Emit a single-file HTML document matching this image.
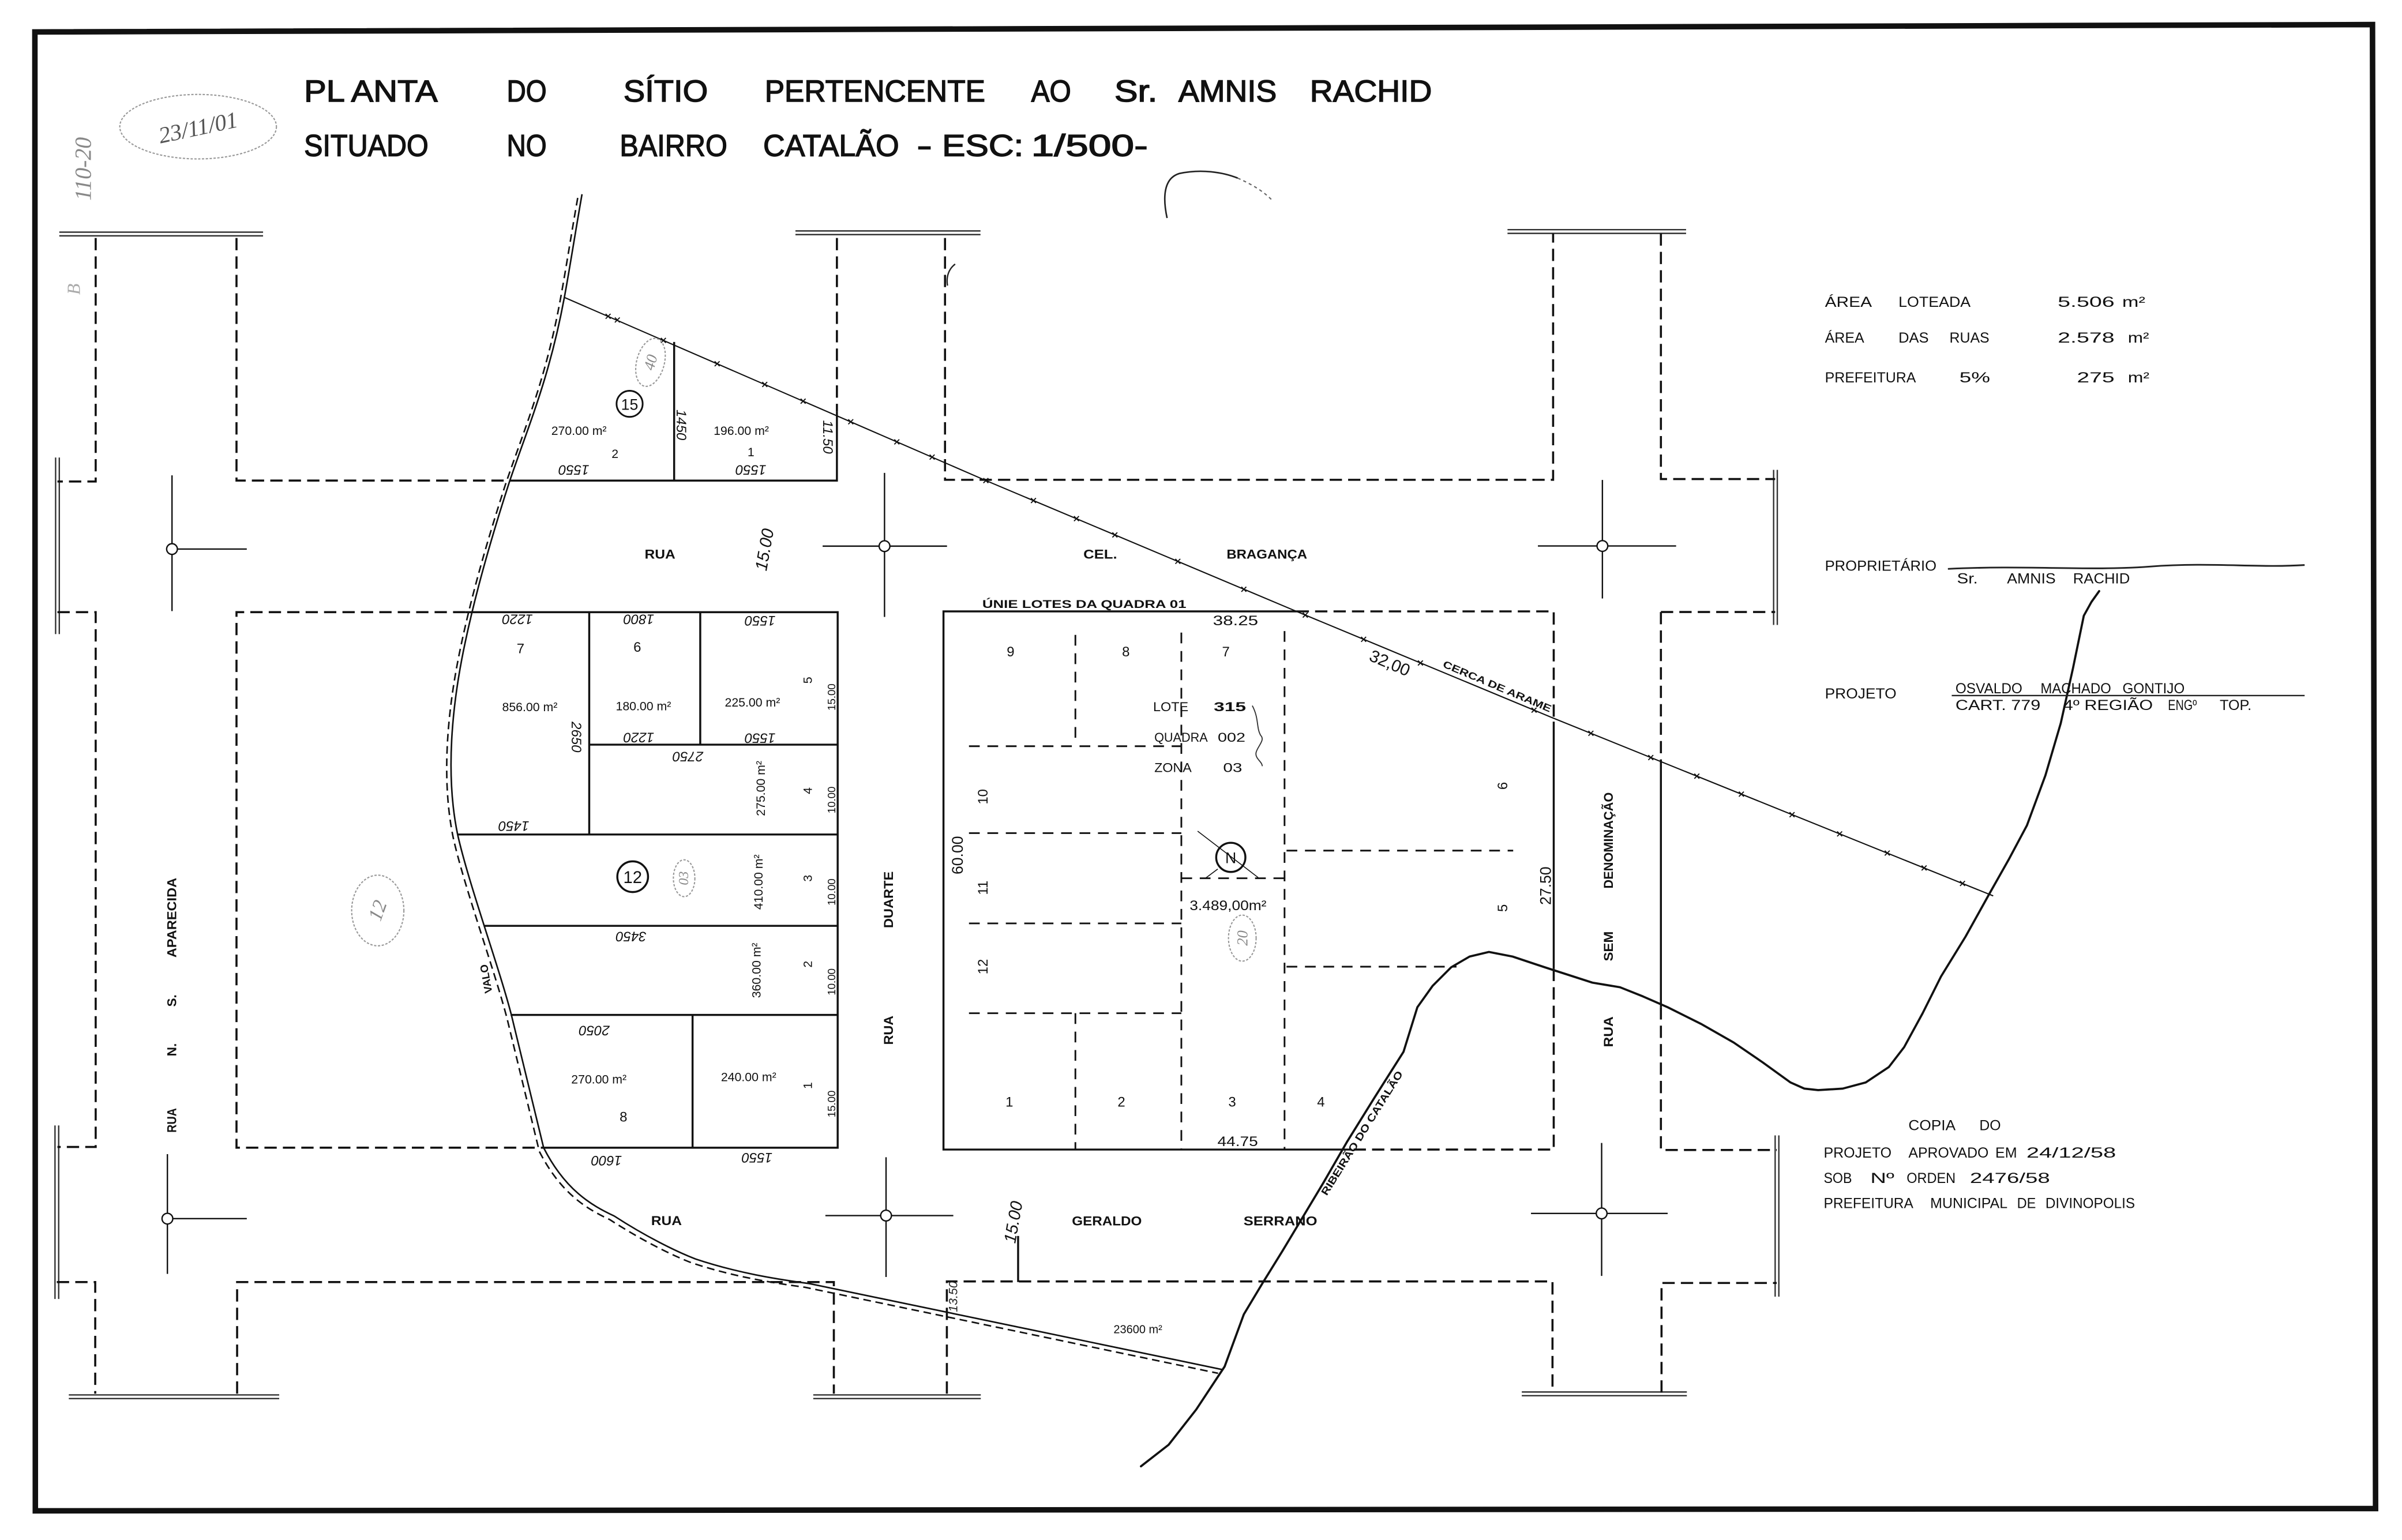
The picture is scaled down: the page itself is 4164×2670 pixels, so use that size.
<!DOCTYPE html>
<html><head><meta charset="utf-8"><style>
html,body{margin:0;padding:0;background:#fff;}
svg{display:block;}
text{font-family:"Liberation Sans",sans-serif;fill:#111;}
.ttl text{stroke:#111;stroke-width:0.55;}
.h{font-family:"Liberation Serif",serif;font-style:italic;fill:#555;}
.s{fill:none;stroke:#111;stroke-width:1.3;}
.d{fill:none;stroke:#111;stroke-width:1.35;stroke-dasharray:8 4;}
.d2{fill:none;stroke:#111;stroke-width:1.1;stroke-dasharray:7 5;}
.br{fill:none;stroke:#333;stroke-width:0.9;}
.pc{fill:none;stroke:#999;stroke-width:0.8;stroke-dasharray:1.5 1;}
</style></head><body>
<svg width="4164" height="2670" viewBox="0 0 1564.2 1003" xmlns="http://www.w3.org/2000/svg">
<rect x="0" y="0" width="1564.2" height="1003" fill="#fff"/>
<path d="M22.7,20.8 L1545,16 L1547,982.5 L23,984 Z" fill="none" stroke="#111" stroke-width="3.6"/>
<g class="ttl">
<text x="198" y="59.5" font-size="20" dominant-baseline="central" textLength="87" lengthAdjust="spacingAndGlyphs">PL ANTA</text>
<text x="330" y="59.5" font-size="20" dominant-baseline="central" textLength="26" lengthAdjust="spacingAndGlyphs">DO</text>
<text x="406" y="59.5" font-size="20" dominant-baseline="central" textLength="55" lengthAdjust="spacingAndGlyphs">SÍTIO</text>
<text x="498" y="59.5" font-size="20" dominant-baseline="central" textLength="143.6" lengthAdjust="spacingAndGlyphs">PERTENCENTE</text>
<text x="671.5" y="59.5" font-size="20" dominant-baseline="central" textLength="26" lengthAdjust="spacingAndGlyphs">AO</text>
<text x="725.7" y="59.5" font-size="20" dominant-baseline="central" textLength="28" lengthAdjust="spacingAndGlyphs">Sr.</text>
<text x="767.4" y="59.5" font-size="20" dominant-baseline="central" textLength="64" lengthAdjust="spacingAndGlyphs">AMNIS</text>
<text x="853" y="59.5" font-size="20" dominant-baseline="central" textLength="79.5" lengthAdjust="spacingAndGlyphs">RACHID</text>
<text x="198" y="95" font-size="20" dominant-baseline="central" textLength="81" lengthAdjust="spacingAndGlyphs">SITUADO</text>
<text x="330" y="95" font-size="20" dominant-baseline="central" textLength="26" lengthAdjust="spacingAndGlyphs">NO</text>
<text x="403.6" y="95" font-size="20" dominant-baseline="central" textLength="70" lengthAdjust="spacingAndGlyphs">BAIRRO</text>
<text x="497" y="95" font-size="20" dominant-baseline="central" textLength="88.5" lengthAdjust="spacingAndGlyphs">CATALÃO</text>
<text x="597" y="95" font-size="20" dominant-baseline="central" textLength="10" lengthAdjust="spacingAndGlyphs">-</text>
<text x="613.5" y="95" font-size="20" dominant-baseline="central" textLength="53" lengthAdjust="spacingAndGlyphs">ESC:</text>
<text x="671.5" y="95" font-size="20" dominant-baseline="central" textLength="76" lengthAdjust="spacingAndGlyphs">1/500-</text>
</g>
<ellipse cx="129" cy="82.5" rx="51" ry="21" class="pc"/>
<text class="h" x="129" y="83" font-size="15" text-anchor="middle" dominant-baseline="central" transform="rotate(-12 129 83)">23/11/01</text>
<text class="h" x="0" y="0" font-size="15" text-anchor="middle" dominant-baseline="central" transform="translate(54,110) rotate(-90)" style="fill:#888">110-20</text>
<text class="h" x="52" y="192" font-size="12" style="fill:#aaa" transform="rotate(-90 52 192)">B</text>
<path d="M760,142 C757,128 758,116 768,113 C782,110 796,112 806,116" fill="none" stroke="#222" stroke-width="1"/>
<path d="M806,116 C815,120 822,124 828,130" fill="none" stroke="#666" stroke-width="0.8" stroke-dasharray="2 2"/>
<path d="M617,186 C616,180 618,175 622,172" fill="none" stroke="#222" stroke-width="0.9"/>
<path class="br" d="M38.6,151.2 H171.3 M38.6,153.6 H171.3 M518,150.4 H638.5 M518,152.8 H638.5 M981.7,149.6 H1098 M981.7,152 H1098 M44.8,908.5 H181.8 M44.8,910.9 H181.8 M529.6,908.5 H638.7 M529.6,910.9 H638.7 M991,906.6 H1098.5 M991,909 H1098.5 M36.2,298 V413 M38.6,298 V413 M35.8,733 V846 M38.2,733 V846 M1155,306 V407 M1157.4,306 V407 M1156,739.5 V844.5 M1158.4,739.5 V844.5"/>
<path class="d" d="M62.3,155 V313.6 H37.4 M154,155 V313 H332 M545,155 V268 M615.4,155 V312.5 H1011.4 V152 M1081.6,152 V312 H1156 M37.4,398.7 H62.3 V747 H37.4 M303,398.7 H154 V747.5 H354 M844.4,398.2 H1011.8 V470 M1011.8,631 V748.7 H880 M1081.6,398.6 H1156 M1081.6,398.6 V497 M1081.6,656 V749 H1157 M37,835 H62 V907.7 M154.4,907.7 V835 H543 V907.7 M616.6,907.7 V834.6 H1011 V907 M1082,907 V835.6 H1157"/>
<path class="s" d="M332,313 H545 V268 M439,222.7 V313 M303,398.7 H545.5 V747.5 H354 M383.7,398.7 V543.5 M456,398.7 V485 M383.7,485 H545.5 M298,543.5 H545.5 M315,603 H545.5 M332.5,661 H545.5 M451,661 V747.5 M844.4,398.2 H614.4 V748.7 H880 M1011.8,470 V631 M1081.6,497 V656 M663,805 V835"/>
<path class="d2" d="M700.3,413.5 V484.6 M769.3,412 V748.7 M836.5,411 V748.7 M631,486 H769.3 M631,542.6 H769.3 M631,601.4 H769.3 M631,659.9 H769.3 M700.3,659.9 V748.7 M769.3,572 H836.5 M837.8,554 H985.4 M837.8,629.6 H948.5"/>
<g fill="none" stroke="#111" stroke-width="0.9">
<path d="M112,309.6 V398 M112,357.6 H160.7"/><circle cx="112" cy="357.6" r="3.5" fill="#fff"/>
<path d="M576,308 V401.8 M535.7,355.7 H616.7"/><circle cx="576" cy="355.7" r="3.5" fill="#fff"/>
<path d="M1043.5,312.6 V389.8 M1001.5,355.6 H1091.5"/><circle cx="1043.5" cy="355.6" r="3.5" fill="#fff"/>
<path d="M109,751.7 V829.7 M109,793.7 H160.7"/><circle cx="109" cy="793.7" r="3.5" fill="#fff"/>
<path d="M577,753.7 V831.7 M537.5,791.7 H620.8"/><circle cx="577" cy="791.7" r="3.5" fill="#fff"/>
<path d="M1043,744.4 V831 M997,790.3 H1086"/><circle cx="1043" cy="790.3" r="3.5" fill="#fff"/>
</g>
<path d="M379,126.5 C374,155 371,175 367.5,193.7 C358,245 345,275 332,313 C320,350 310,385 303,418 C294,460 290,505 298,543.5 C305,575 325,630 333,661 L354,747.5 C368,775 385,785 400,792 C420,805 440,815 453,820 C480,829 505,833 527,836 L796,892" fill="none" stroke="#111" stroke-width="1"/>
<path d="M379,126.5 C374,155 371,175 367.5,193.7 C358,245 345,275 332,313 C320,350 310,385 303,418 C294,460 290,505 298,543.5 C305,575 325,630 333,661 L354,747.5 C368,775 385,785 400,792 C420,805 440,815 453,820 C480,829 505,833 527,836 L796,892" fill="none" stroke="#111" stroke-width="1" stroke-dasharray="5 3" transform="translate(-2.8,2.4)"/>
<polyline points="367.5,193.7 641.6,312.8 845,398.5 1011,467.5 1298,583.5" fill="none" stroke="#111" stroke-width="0.8"/>
<path d="M394.4,204.4 l3.2,3.2 m0,-3.2 l-3.2,3.2 M400.4,206.8 l3.2,3.2 m0,-3.2 l-3.2,3.2 M430.4,220.1 l3.2,3.2 m0,-3.2 l-3.2,3.2 M465.4,235.3 l3.2,3.2 m0,-3.2 l-3.2,3.2 M496.4,248.8 l3.2,3.2 m0,-3.2 l-3.2,3.2 M521.4,259.7 l3.2,3.2 m0,-3.2 l-3.2,3.2 M552.4,273.1 l3.2,3.2 m0,-3.2 l-3.2,3.2 M582.4,286.2 l3.2,3.2 m0,-3.2 l-3.2,3.2 M605.4,296.1 l3.2,3.2 m0,-3.2 l-3.2,3.2 M640.4,311.4 l3.2,3.2 m0,-3.2 l-3.2,3.2 M671.4,324.4 l3.2,3.2 m0,-3.2 l-3.2,3.2 M699.4,336.2 l3.2,3.2 m0,-3.2 l-3.2,3.2 M724.4,346.8 l3.2,3.2 m0,-3.2 l-3.2,3.2 M765.4,364 l3.2,3.2 m0,-3.2 l-3.2,3.2 M808.4,382.2 l3.2,3.2 m0,-3.2 l-3.2,3.2 M848.4,399 l3.2,3.2 m0,-3.2 l-3.2,3.2 M886.4,414.8 l3.2,3.2 m0,-3.2 l-3.2,3.2 M923.4,430.2 l3.2,3.2 m0,-3.2 l-3.2,3.2 M997.4,460.9 l3.2,3.2 m0,-3.2 l-3.2,3.2 M1034.4,476 l3.2,3.2 m0,-3.2 l-3.2,3.2 M1073.4,491.8 l3.2,3.2 m0,-3.2 l-3.2,3.2 M1103.4,503.9 l3.2,3.2 m0,-3.2 l-3.2,3.2 M1132.4,515.6 l3.2,3.2 m0,-3.2 l-3.2,3.2 M1165.4,529 l3.2,3.2 m0,-3.2 l-3.2,3.2 M1196.4,541.5 l3.2,3.2 m0,-3.2 l-3.2,3.2 M1227.4,554 l3.2,3.2 m0,-3.2 l-3.2,3.2 M1251.4,563.7 l3.2,3.2 m0,-3.2 l-3.2,3.2 M1276.4,573.8 l3.2,3.2 m0,-3.2 l-3.2,3.2" fill="none" stroke="#111" stroke-width="0.7"/>
<polyline points="743,955 761,941 779,918 797.5,890 810,856 822,836 835,815 847,795 862,770 877,744 895,715 914,685 923,656 933,642 945,630 957,623 969.6,620 985,623 1006,630 1037,640 1055,643 1070,649 1086,656 1108,667 1129,679 1148,692 1166,705 1175,709 1184,710 1200,709 1215,705 1230,695 1240,682 1252,660 1264,636 1280,610 1295,583 1308,560 1320,537.5 1332,505 1342,471 1350,435 1357,401 1362,392 1367,385" fill="none" stroke="#111" stroke-width="1.4" stroke-linejoin="round" stroke-linecap="round"/>
<g font-weight="bold" font-size="8.5" text-anchor="middle" dominant-baseline="central">
<text x="429.8" y="361" textLength="20" lengthAdjust="spacingAndGlyphs">RUA</text>
<text x="716.5" y="361" textLength="22" lengthAdjust="spacingAndGlyphs">CEL.</text>
<text x="825" y="361" textLength="52.5" lengthAdjust="spacingAndGlyphs">BRAGANÇA</text>
<text x="434" y="795" textLength="20" lengthAdjust="spacingAndGlyphs">RUA</text>
<text x="720.8" y="795.3" textLength="45.5" lengthAdjust="spacingAndGlyphs">GERALDO</text>
<text x="833.8" y="795.3" textLength="48" lengthAdjust="spacingAndGlyphs">SERRANO</text>
<text transform="translate(112,729.7) rotate(-90)" textLength="16" lengthAdjust="spacingAndGlyphs">RUA</text>
<text transform="translate(112,683.7) rotate(-90)">N.</text>
<text transform="translate(112,651.7) rotate(-90)">S.</text>
<text transform="translate(112,597.7) rotate(-90)" textLength="52" lengthAdjust="spacingAndGlyphs">APARECIDA</text>
<text transform="translate(578.6,586) rotate(-90)" textLength="37" lengthAdjust="spacingAndGlyphs">DUARTE</text>
<text transform="translate(578.6,671) rotate(-90)" textLength="19" lengthAdjust="spacingAndGlyphs">RUA</text>
<text transform="translate(1047.5,672) rotate(-90)" textLength="20" lengthAdjust="spacingAndGlyphs">RUA</text>
<text transform="translate(1047.5,616.3) rotate(-90)" textLength="19.5" lengthAdjust="spacingAndGlyphs">SEM</text>
<text transform="translate(1047.5,547.4) rotate(-90)" textLength="62.7" lengthAdjust="spacingAndGlyphs">DENOMINAÇÃO</text>
</g>
<g font-size="8" text-anchor="middle" dominant-baseline="central">
<text x="377" y="280.6">270.00 m²</text>
<text x="400.5" y="295.6">2</text>
<text x="482.7" y="280.6">196.00 m²</text>
<text x="489" y="294.6">1</text>
<text x="339" y="422.6" font-size="9">7</text>
<text x="415" y="421.6" font-size="9">6</text>
<text x="345" y="460.5">856.00 m²</text>
<text x="419" y="460">180.00 m²</text>
<text x="490" y="457.5">225.00 m²</text>
<text x="390" y="703">270.00 m²</text>
<text x="406" y="727.7" font-size="9">8</text>
<text x="487.5" y="701.6">240.00 m²</text>
<text transform="translate(526,443) rotate(-90)">5</text>
<text transform="translate(541.5,454) rotate(-90)" font-size="7">15.00</text>
<text transform="translate(495.5,513.5) rotate(-90)">275.00 m²</text>
<text transform="translate(526,515) rotate(-90)">4</text>
<text transform="translate(541.5,521) rotate(-90)" font-size="7">10.00</text>
<text transform="translate(494,574.5) rotate(-90)">410.00 m²</text>
<text transform="translate(526,572) rotate(-90)">3</text>
<text transform="translate(541.5,581) rotate(-90)" font-size="7">10.00</text>
<text transform="translate(492.7,632) rotate(-90)">360.00 m²</text>
<text transform="translate(526,628) rotate(-90)">2</text>
<text transform="translate(541.5,639.5) rotate(-90)" font-size="7">10.00</text>
<text transform="translate(526,707) rotate(-90)">1</text>
<text transform="translate(541.5,719) rotate(-90)" font-size="7">15.00</text>
<text transform="translate(316.5,637.5) rotate(-100)" font-size="7" font-weight="bold">VALO</text>
<text x="741" y="866" font-size="7.5">23600 m²</text>
</g>
<circle cx="410" cy="263" r="8.5" fill="none" stroke="#111" stroke-width="1.1"/>
<text x="410" y="263.5" font-size="10" text-anchor="middle" dominant-baseline="central">15</text>
<circle cx="412" cy="571" r="10" fill="none" stroke="#111" stroke-width="1.3"/>
<text x="412" y="571.5" font-size="11" text-anchor="middle" dominant-baseline="central">12</text>
<g class="h" font-size="9" text-anchor="middle" dominant-baseline="central">
<text transform="translate(373.7,305.7) rotate(180)">1550</text>
<text transform="translate(489,305.7) rotate(180)">1550</text>
<text transform="translate(443.5,276.7) rotate(90)">1450</text>
<text transform="translate(538.8,284.6) rotate(90)">11.50</text>
<text transform="translate(337,403) rotate(180)">1220</text>
<text transform="translate(416,403) rotate(180)">1800</text>
<text transform="translate(495,404) rotate(180)">1550</text>
<text transform="translate(416,480) rotate(180)">1220</text>
<text transform="translate(495,480.5) rotate(180)">1550</text>
<text transform="translate(448,492.5) rotate(180)">2750</text>
<text transform="translate(334.6,537.7) rotate(180)">1450</text>
<text transform="translate(375,480) rotate(90)">2650</text>
<text transform="translate(411,609.7) rotate(180)">3450</text>
<text transform="translate(387,671) rotate(180)">2050</text>
<text transform="translate(395,755.7) rotate(180)">1600</text>
<text transform="translate(493,753.7) rotate(180)">1550</text>
<text transform="translate(498,358) rotate(-80)" font-size="11">15.00</text>
<text transform="translate(660,796) rotate(-80)" font-size="11">15.00</text>
<text transform="translate(620.7,844.5) rotate(-90)" font-size="8" style="fill:#222">13.50</text>
</g>
<ellipse cx="423.6" cy="236" rx="9" ry="16" class="pc" transform="rotate(15 423.6 236)"/>
<text class="h" transform="translate(423.6,236) rotate(-75)" font-size="10" text-anchor="middle" dominant-baseline="central" style="fill:#888">40</text>
<ellipse cx="445.5" cy="572" rx="7" ry="12" class="pc"/>
<text class="h" transform="translate(445.5,572) rotate(-90)" font-size="9" text-anchor="middle" dominant-baseline="central" style="fill:#888">03</text>
<ellipse cx="809" cy="611" rx="9" ry="15" class="pc"/>
<text class="h" transform="translate(809,611) rotate(-90)" font-size="10" text-anchor="middle" dominant-baseline="central" style="fill:#888">20</text>
<ellipse cx="246" cy="593" rx="17" ry="23" class="pc"/>
<text class="h" transform="translate(246,593) rotate(-70)" font-size="13" text-anchor="middle" dominant-baseline="central" style="fill:#888">12</text>
<text x="639.7" y="393.7" font-size="7.3" font-weight="bold" dominant-baseline="central" textLength="132.8" lengthAdjust="spacingAndGlyphs">ÚNIE  LOTES  DA  QUADRA  01</text>
<g font-size="9" text-anchor="middle" dominant-baseline="central">
<text x="804.6" y="404.3" textLength="29.5" lengthAdjust="spacingAndGlyphs">38.25</text>
<text x="658.1" y="424.6">9</text>
<text x="733.2" y="424.6">8</text>
<text x="798.3" y="424.6">7</text>
<text x="806" y="743.7" textLength="26.4" lengthAdjust="spacingAndGlyphs">44.75</text>
<text x="657.3" y="717.8">1</text>
<text x="730.3" y="717.8">2</text>
<text x="802.4" y="717.8">3</text>
<text x="860.2" y="717.8">4</text>
<text transform="translate(640.2,518.9) rotate(-90)">10</text>
<text transform="translate(623.6,557) rotate(-90)" font-size="10">60.00</text>
<text transform="translate(640.2,578.2) rotate(-90)">11</text>
<text transform="translate(640.2,629.6) rotate(-90)">12</text>
<text transform="translate(978.8,511.8) rotate(-90)">6</text>
<text transform="translate(978.8,591.4) rotate(-90)">5</text>
<text transform="translate(1006.5,576.9) rotate(-90)" font-size="10">27.50</text>
<text x="799.7" y="590" textLength="50" lengthAdjust="spacingAndGlyphs">3.489,00m²</text>
</g>
<g font-size="8.5" dominant-baseline="central">
<text x="750.9" y="460.4" textLength="23" lengthAdjust="spacingAndGlyphs">LOTE</text>
<text x="790.4" y="460.4" font-weight="bold" textLength="21" lengthAdjust="spacingAndGlyphs">315</text>
<text x="751.7" y="480.2" textLength="34.8" lengthAdjust="spacingAndGlyphs">QUADRA</text>
<text x="793" y="480.2" textLength="18" lengthAdjust="spacingAndGlyphs">002</text>
<text x="751.7" y="500" textLength="24.3" lengthAdjust="spacingAndGlyphs">ZONA</text>
<text x="796.5" y="500" textLength="12.4" lengthAdjust="spacingAndGlyphs">03</text>
</g>
<path d="M815.5,459.6 C820,468 818,474 821,479 C824,482 819,486 818,490 C817,494 822,496 822,499" fill="none" stroke="#333" stroke-width="0.7"/>
<circle cx="801.5" cy="558.4" r="9.5" fill="none" stroke="#111" stroke-width="1.3"/>
<text x="801.5" y="558.8" font-size="10" text-anchor="middle" dominant-baseline="central">N</text>
<path d="M779.9,541.3 L819.4,571.6 M785,572 L793,566" fill="none" stroke="#111" stroke-width="0.6"/>
<text transform="translate(905,432) rotate(23)" font-size="11" text-anchor="middle" dominant-baseline="central">32,00</text>
<text transform="translate(975,447) rotate(23)" font-size="6.5" font-weight="bold" text-anchor="middle" dominant-baseline="central" textLength="76" lengthAdjust="spacingAndGlyphs">CERCA  DE  ARAME</text>
<text transform="translate(887,738) rotate(-58)" font-size="6.8" font-weight="bold" text-anchor="middle" dominant-baseline="central" textLength="94" lengthAdjust="spacingAndGlyphs">RIBEIRÃO  DO  CATALÃO</text>
<g font-size="9.5" dominant-baseline="central">
<text x="1188.4" y="196.8" textLength="30.6" lengthAdjust="spacingAndGlyphs">ÁREA</text>
<text x="1236.3" y="196.8" textLength="47" lengthAdjust="spacingAndGlyphs">LOTEADA</text>
<text x="1340" y="196.8" textLength="37" lengthAdjust="spacingAndGlyphs">5.506</text>
<text x="1382" y="196.8" textLength="15" lengthAdjust="spacingAndGlyphs">m²</text>
<text x="1188.4" y="220.1" textLength="25.6" lengthAdjust="spacingAndGlyphs">ÁREA</text>
<text x="1236.3" y="220.1" textLength="19.7" lengthAdjust="spacingAndGlyphs">DAS</text>
<text x="1269.5" y="220.1" textLength="26" lengthAdjust="spacingAndGlyphs">RUAS</text>
<text x="1340" y="220.1" textLength="37" lengthAdjust="spacingAndGlyphs">2.578</text>
<text x="1385.7" y="220.1" textLength="13.8" lengthAdjust="spacingAndGlyphs">m²</text>
<text x="1188.4" y="246" textLength="59.3" lengthAdjust="spacingAndGlyphs">PREFEITURA</text>
<text x="1276" y="246" textLength="20" lengthAdjust="spacingAndGlyphs">5%</text>
<text x="1352.5" y="246" textLength="24.5" lengthAdjust="spacingAndGlyphs">275</text>
<text x="1385.7" y="246" textLength="14" lengthAdjust="spacingAndGlyphs">m²</text>
<text x="1188.4" y="368.7" textLength="72.7" lengthAdjust="spacingAndGlyphs">PROPRIETÁRIO</text>
<text x="1274.4" y="377" textLength="13.6" lengthAdjust="spacingAndGlyphs">Sr.</text>
<text x="1307" y="377" textLength="31.7" lengthAdjust="spacingAndGlyphs">AMNIS</text>
<text x="1350" y="377" textLength="37" lengthAdjust="spacingAndGlyphs">RACHID</text>
<text x="1188.4" y="452" textLength="46.6" lengthAdjust="spacingAndGlyphs">PROJETO</text>
<text x="1273.4" y="448.5" textLength="43.6" lengthAdjust="spacingAndGlyphs">OSVALDO</text>
<text x="1328.8" y="448.5" textLength="46" lengthAdjust="spacingAndGlyphs">MACHADO</text>
<text x="1382.2" y="448.5" textLength="40.5" lengthAdjust="spacingAndGlyphs">GONTIJO</text>
<text x="1273.4" y="459.5" textLength="55.4" lengthAdjust="spacingAndGlyphs">CART. 779</text>
<text x="1343.6" y="459.5" textLength="58.4" lengthAdjust="spacingAndGlyphs">4º REGIÃO</text>
<text x="1411.8" y="459.5" textLength="18.8" lengthAdjust="spacingAndGlyphs">ENGº</text>
<text x="1445.5" y="459.5" textLength="20.7" lengthAdjust="spacingAndGlyphs">TOP.</text>
<text x="1242.8" y="733" textLength="30.7" lengthAdjust="spacingAndGlyphs">COPIA</text>
<text x="1289" y="733" textLength="14" lengthAdjust="spacingAndGlyphs">DO</text>
<text x="1187.6" y="751" textLength="44.2" lengthAdjust="spacingAndGlyphs">PROJETO</text>
<text x="1242.8" y="751" textLength="52.2" lengthAdjust="spacingAndGlyphs">APROVADO</text>
<text x="1299.4" y="751" textLength="14.1" lengthAdjust="spacingAndGlyphs">EM</text>
<text x="1319.6" y="751" textLength="58.4" lengthAdjust="spacingAndGlyphs">24/12/58</text>
<text x="1187.6" y="767.4" textLength="18.4" lengthAdjust="spacingAndGlyphs">SOB</text>
<text x="1218" y="767.4" textLength="15.6" lengthAdjust="spacingAndGlyphs">Nº</text>
<text x="1241.6" y="767.4" textLength="31.9" lengthAdjust="spacingAndGlyphs">ORDEN</text>
<text x="1282.8" y="767.4" textLength="52.2" lengthAdjust="spacingAndGlyphs">2476/58</text>
<text x="1187.6" y="783.8" textLength="58.4" lengthAdjust="spacingAndGlyphs">PREFEITURA</text>
<text x="1257" y="783.8" textLength="50.3" lengthAdjust="spacingAndGlyphs">MUNICIPAL</text>
<text x="1313.5" y="783.8" textLength="12.3" lengthAdjust="spacingAndGlyphs">DE</text>
<text x="1332" y="783.8" textLength="58.3" lengthAdjust="spacingAndGlyphs">DIVINOPOLIS</text>
</g>
<path d="M1268.5,370.5 C1320,368 1360,372 1400,369 C1440,366 1470,370 1500.8,368" fill="none" stroke="#222" stroke-width="1.1"/>
<path d="M1271,453 H1500.8" fill="none" stroke="#222" stroke-width="0.9"/>
</svg>
</body></html>
